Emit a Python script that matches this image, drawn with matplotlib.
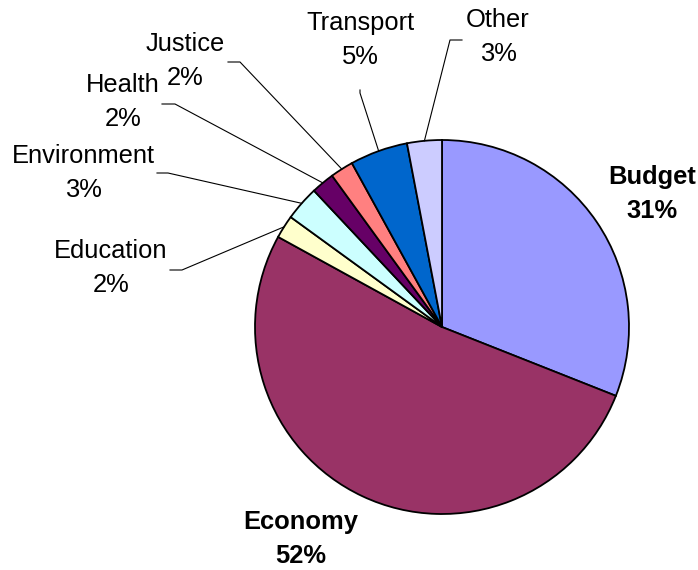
import numpy as np
import matplotlib
matplotlib.use('Agg')
import matplotlib.pyplot as plt

plt.rcParams['font.family'] = ['Liberation Sans', 'DejaVu Sans']

# data
categories = ['Budget', 'Economy', 'Education', 'Environment', 'Health', 'Justice', 'Transport', 'Other']
values = [31, 52, 2, 3, 2, 2, 5, 3]
colors = ['#9999FF', '#993366', '#FFFFCC', '#CCFFFF', '#660066', '#FF8080', '#0066CC', '#CCCCFF']

W, H = 698, 570
cx, cy, r = 442, H - 327, 187

fig = plt.figure(figsize=(W / 100, H / 100), dpi=100)
ax = fig.add_axes([0, 0, 1, 1])
ax.pie(values, colors=colors, startangle=90, counterclock=False,
       center=(cx, cy), radius=r,
       wedgeprops=dict(edgecolor='black', linewidth=1.3))
ax.set_xlim(0, W)
ax.set_ylim(0, H)
ax.set_aspect('equal')
ax.axis('off')

# label layout (pixel coords, y from top): text centre, leader line points
layout = {
    'Budget':      dict(pos=(652, 194), bold=True),
    'Economy':     dict(pos=(301, 539), bold=True),
    'Education':   dict(pos=(111, 268), line=[(170, 270), (182, 270)]),
    'Environment': dict(pos=(83, 173), line=[(157, 173), (168, 173)]),
    'Health':      dict(pos=(123, 102), line=[(162, 104), (175, 104)]),
    'Justice':     dict(pos=(185, 61), line=[(228, 62), (240, 62)]),
    'Transport':   dict(pos=(360, 40), line=[(360, 90), (360, 93)]),
    'Other':       dict(pos=(498, 37), line=[(462, 40), (450, 40)]),
}

total = sum(values)
start = 0
for name, v in zip(categories, values):
    mid = (start + v / 2) / total * 2 * np.pi  # clockwise from top
    start += v
    opts = layout[name]
    x, y = opts['pos']
    ax.text(x, H - y, f'{name}\n{v}%', ha='center', va='center',
            fontsize=18.4, linespacing=1.5,
            fontweight='bold' if opts.get('bold') else 'normal')
    if 'line' in opts:
        ex = cx + r * np.sin(mid)
        ey = cy + r * np.cos(mid)
        pts = opts['line']
        xs = [p[0] for p in pts] + [ex]
        ys = [H - p[1] for p in pts] + [ey]
        ax.plot(xs, ys, color='black', linewidth=0.8)

fig.savefig('out.png', dpi=100)
